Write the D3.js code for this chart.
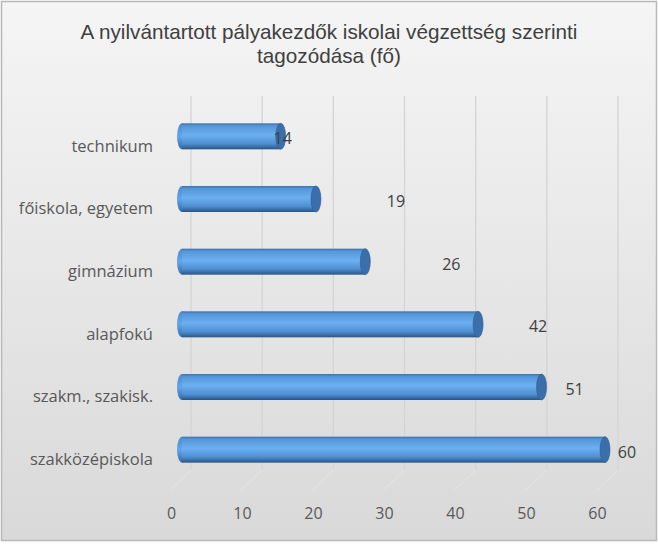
<!DOCTYPE html>
<html>
<head>
<meta charset="utf-8">
<script src="https://cdn.jsdelivr.net/npm/d3@7"></script>
<style>
  body { margin: 0; background: #ffffff; }
  svg { display: block; }
</style>
</head>
<body>
<div id="vis1"></div>
<script>
const categories = ["technikum", "főiskola, egyetem", "gimnázium", "alapfokú", "szakm., szakisk.", "szakközépiskola"];
const values = [14, 19, 26, 42, 51, 60];
const tickValues = [0, 10, 20, 30, 40, 50, 60];
const titleLines = ["A nyilvántartott pályakezdők iskolai végzettség szerinti", "tagozódása (fő)"];

const FRAME_WIDTH = 658;
const FRAME_HEIGHT = 544;

// where Excel's 3D layout drops the value labels, px right of the bar end
const LABEL_DX = [2, 80, 86, 60, 33, 22];

const FRAME = d3.select("#vis1")
  .append("svg")
    .attr("width", FRAME_WIDTH)
    .attr("height", FRAME_HEIGHT);

const defs = FRAME.append("defs");

const bg = defs.append("linearGradient")
  .attr("id", "bg").attr("x1", 0).attr("y1", 0).attr("x2", 0).attr("y2", 1);
bg.append("stop").attr("offset", "0%").attr("stop-color", "#f5f5f5");
bg.append("stop").attr("offset", "100%").attr("stop-color", "#d9d9d9");

const cyl = defs.append("linearGradient")
  .attr("id", "cyl").attr("x1", 0).attr("y1", 0).attr("x2", 0).attr("y2", 1);
cyl.append("stop").attr("offset", "0%").attr("stop-color", "#3c72ad");
cyl.append("stop").attr("offset", "10%").attr("stop-color", "#5596d8");
cyl.append("stop").attr("offset", "45%").attr("stop-color", "#6cb0f2");
cyl.append("stop").attr("offset", "78%").attr("stop-color", "#4f8fd2");
cyl.append("stop").attr("offset", "100%").attr("stop-color", "#2b5583");

const capL = defs.append("linearGradient")
  .attr("id", "capL").attr("x1", 0).attr("y1", 0).attr("x2", 0).attr("y2", 1);
capL.append("stop").attr("offset", "0%").attr("stop-color", "#4c8bd0");
capL.append("stop").attr("offset", "50%").attr("stop-color", "#62a6ea");
capL.append("stop").attr("offset", "100%").attr("stop-color", "#356aa4");

FRAME.append("rect")
  .attr("x", 1.5).attr("y", 1.5)
  .attr("width", FRAME_WIDTH - 3).attr("height", FRAME_HEIGHT - 5)
  .attr("fill", "url(#bg)")
  .attr("stroke", "#b8b8b8")
  .attr("stroke-width", 1.5);

// title
FRAME.append("g").selectAll("text")
  .data(titleLines)
  .enter()
  .append("text")
    .attr("x", 329)
    .attr("y", (d, i) => 39 + i * 24)
    .attr("text-anchor", "middle")
    .attr("font-family", "Liberation Sans, Arial, sans-serif")
    .attr("font-size", "20.7px")
    .attr("fill", "#404040")
    .text(d => d);

// scales: back wall, front axis, bars
const X_BACK = d3.scaleLinear().domain([0, 60]).range([191, 618]);
const X_FRONT = d3.scaleLinear().domain([0, 60]).range([171, 597]);
const X_BAR = d3.scaleLinear().domain([0, 60]).range([182, 605]);
const Y_SCALE = d3.scaleBand().domain(categories).range([105, 481])
  .paddingInner(0.585).paddingOuter(0.2925);

const WALL_TOP = 96, WALL_BOTTOM = 470, FLOOR_FRONT = 490;

// back wall gridlines
FRAME.append("g").selectAll("line")
  .data(tickValues)
  .enter()
  .append("line")
    .attr("x1", d => X_BACK(d)).attr("x2", d => X_BACK(d))
    .attr("y1", WALL_TOP).attr("y2", WALL_BOTTOM)
    .attr("stroke", "#d4d4d4")
    .attr("stroke-width", 1.3);

// floor lines
FRAME.append("g").selectAll("line")
  .data(tickValues)
  .enter()
  .append("line")
    .attr("x1", d => X_BACK(d)).attr("y1", WALL_BOTTOM)
    .attr("x2", d => X_BACK(d) - 21).attr("y2", FLOOR_FRONT)
    .attr("stroke", "#e6e6e6")
    .attr("stroke-width", 1);

// x axis labels
const xAxis = FRAME.append("g")
  .attr("transform", "translate(0," + 519 + ")")
  .call(d3.axisBottom(X_FRONT).tickValues(tickValues).tickSize(0).tickPadding(0));
xAxis.select(".domain").remove();
xAxis.selectAll("text")
  .attr("dy", 0)
  .attr("font-family", "Open Sans, Lato, sans-serif")
  .attr("font-size", "16px")
  .attr("fill", "#595959");

// category labels
const yAxis = FRAME.append("g")
  .attr("transform", "translate(153,10)")
  .call(d3.axisLeft(Y_SCALE).tickSize(0).tickPadding(0));
yAxis.select(".domain").remove();
yAxis.selectAll("text")
  .attr("font-family", "Open Sans, Lato, sans-serif")
  .attr("font-size", "16.5px")
  .attr("fill", "#595959");

// cylinder bars
const rx = 5;
const bars = FRAME.append("g").selectAll("g")
  .data(values)
  .enter()
  .append("g");

bars.append("ellipse")
  .attr("cx", X_BAR(0))
  .attr("cy", (d, i) => Y_SCALE(categories[i]) + Y_SCALE.bandwidth() / 2)
  .attr("rx", rx)
  .attr("ry", Y_SCALE.bandwidth() / 2)
  .attr("fill", "url(#capL)");

bars.append("rect")
  .attr("x", X_BAR(0))
  .attr("y", (d, i) => Y_SCALE(categories[i]))
  .attr("width", d => X_BAR(d) - X_BAR(0))
  .attr("height", Y_SCALE.bandwidth())
  .attr("fill", "url(#cyl)");

bars.append("ellipse")
  .attr("cx", d => X_BAR(d))
  .attr("cy", (d, i) => Y_SCALE(categories[i]) + Y_SCALE.bandwidth() / 2)
  .attr("rx", rx)
  .attr("ry", Y_SCALE.bandwidth() / 2)
  .attr("fill", "#3a6fab")
  .attr("stroke", "#2f5d90")
  .attr("stroke-width", 0.6);

// value labels
FRAME.append("g").selectAll("text")
  .data(values)
  .enter()
  .append("text")
    .attr("x", (d, i) => X_BAR(d) + LABEL_DX[i])
    .attr("y", (d, i) => Y_SCALE(categories[i]) + Y_SCALE.bandwidth() / 2 + 8)
    .attr("text-anchor", "middle")
    .attr("font-family", "Open Sans, Lato, sans-serif")
    .attr("font-size", "16px")
    .attr("fill", "#404040")
    .text(d => d);
</script>
</body>
</html>
